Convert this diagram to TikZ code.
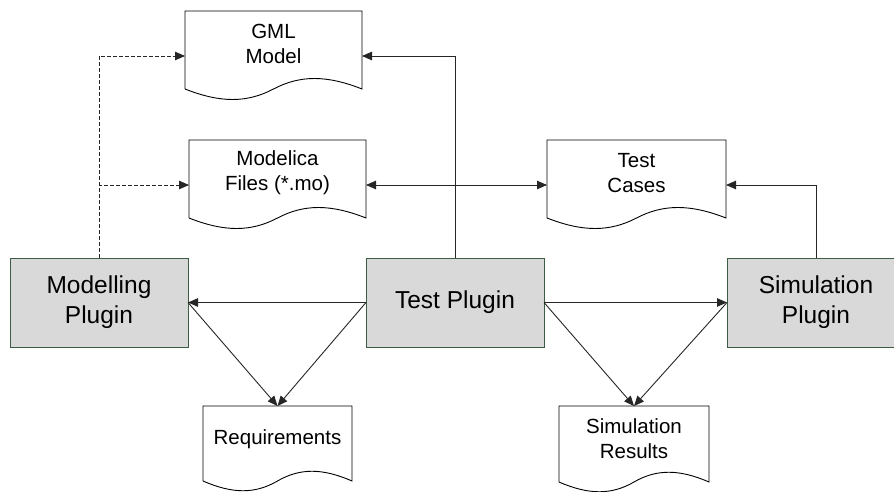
\documentclass[tikz,border=0pt]{standalone}
\usepackage{fontspec}
\setmainfont{Liberation Sans}
\usetikzlibrary{arrows.meta,calc}

\definecolor{plugfill}{HTML}{D9D9D9}
\definecolor{plugedge}{HTML}{3D5C45}

% Document symbol with a wavy lower edge; the node itself covers the text area,
% #2 is the height of the straight sides, #3 the depth of the wave.
\newcommand{\docoutline}[3]{%
  \draw[docline] ($(#1.north west)+(0,-#2)$) -- (#1.north west) -- (#1.north east) -- ($(#1.north east)+(0,-#2)$)
    .. controls ($(#1.north east)!0.2!(#1.north west)+(0,-#2+#3)$) and ($(#1.north east)!0.35!(#1.north west)+(0,-#2+#3)$)
    .. ($(#1.north east)!0.5!(#1.north west)+(0,-#2)$)
    .. controls ($(#1.north east)!0.65!(#1.north west)+(0,-#2-#3)$) and ($(#1.north east)!0.8!(#1.north west)+(0,-#2-#3)$)
    .. ($(#1.north west)+(0,-#2)$);
  \coordinate (#1-w) at ($(#1.north west)+(0,-45pt)$);
  \coordinate (#1-e) at ($(#1.north east)+(0,-45pt)$);
}

\tikzset{
  plugin/.style={draw=plugedge, fill=plugfill, line width=0.9pt, minimum width=178pt,
    minimum height=89pt, align=center, inner sep=0pt, outer sep=0pt,
    font=\fontsize{24.5}{30}\selectfont},
  doc/.style={draw=none, minimum height=66pt, anchor=north, align=center, inner sep=0pt,
    outer sep=0pt, font=\fontsize{20.5}{25}\selectfont},
  docline/.style={draw=black, line width=0.9pt},
  arr/.style={draw=black!85, line width=0.9pt, -{Triangle[length=10pt,width=8.5pt]}},
  twoarr/.style={arr, {Triangle[length=10pt,width=8.5pt]}-{Triangle[length=10pt,width=8.5pt]}},
  dasharr/.style={arr, dash pattern=on 4pt off 2pt},
}

\begin{document}
\begin{tikzpicture}[x=1pt, y=-1pt]
\useasboundingbox (0,0) rectangle (894,492);
\clip (0,0) rectangle (894,492);

% plugins
\node[plugin] (mp) at (99,302.5)  {Modelling\\Plugin};
\node[plugin] (tp) at (455,302.5) {Test Plugin};
\node[plugin] (sp) at (816,302.5) {Simulation\\Plugin};

% documents
\node[doc, minimum width=177pt] (gml) at (273.5,11)  {GML\\Model};
\node[doc, minimum width=177pt] (mf)  at (277.5,140) {Modelica\\Files (*.mo)};
\node[doc, minimum width=179pt] (tc)  at (636.5,140) {Test\\Cases};
\node[doc, minimum width=149pt] (req) at (277.5,406) {Requirements};
\node[doc, minimum width=150pt] (sr)  at (634,406)   {Simulation\\Results};

\docoutline{gml}{78pt}{14pt}
\docoutline{mf}{78pt}{14pt}
\docoutline{tc}{78pt}{14pt}
\docoutline{req}{75pt}{13pt}
\docoutline{sr}{76pt}{13pt}

% connectors
\draw[dasharr] (mp.north) |- (gml-w);
\draw[dasharr] (mp.north) |- (mf-w);
\draw[arr] (tp.north) |- (gml-e);
\draw[twoarr] (mf-e) -- (tc-w);
\draw[arr] (sp.north) |- (tc-e);

\draw[arr] (tp.west) -- (mp.east);
\draw[arr] (tp.east) -- (sp.west);
\draw[arr] (mp.east) -- (req.north);
\draw[arr] (tp.west) -- (req.north);
\draw[arr] (tp.east) -- (sr.north);
\draw[arr] (sp.west) -- (sr.north);
\end{tikzpicture}
\end{document}
